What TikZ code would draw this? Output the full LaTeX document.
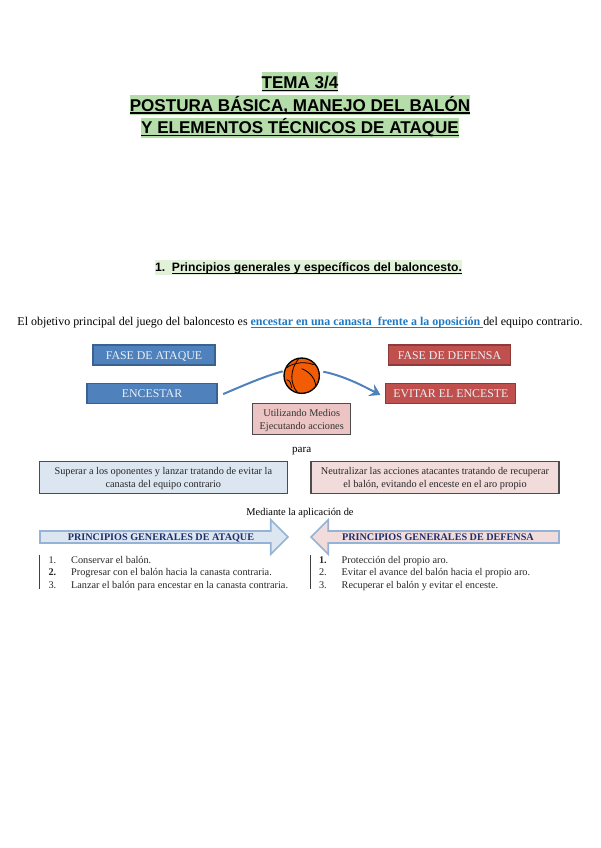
\documentclass[tikz,border=0pt]{standalone}
\usepackage{fontspec}
\usepackage{xcolor}
\usepackage{tikz}
\usetikzlibrary{arrows.meta,positioning,shapes.arrows}
\setmainfont{Liberation Serif}
\newfontfamily\arialfont{Liberation Sans}
\newsavebox{\ulsave}
\newcommand{\ultext}[2][1pt]{\sbox{\ulsave}{#2}\rlap{\rule[-1.7pt]{\wd\ulsave}{#1}}\usebox{\ulsave}}
\definecolor{titlegreen}{HTML}{B5DDAA}
\definecolor{secgreen}{HTML}{E2F1DA}
\definecolor{linkblue}{HTML}{1F7AC4}
\definecolor{atkblue}{HTML}{4F81BD}
\definecolor{atkedge}{HTML}{3A6291}
\definecolor{defred}{HTML}{C0504D}
\definecolor{defedge}{HTML}{8E3A38}
\definecolor{palered}{HTML}{F2DCDB}
\definecolor{paleblue}{HTML}{DCE6F1}
\definecolor{pinkbox}{HTML}{EBC4C3}
\definecolor{arrowedge}{HTML}{95B3D7}
\definecolor{ballfill}{HTML}{F25C05}
\definecolor{navytext}{HTML}{1F2F6B}

\begin{document}
\begin{tikzpicture}[
    x=.75pt, y=-.75pt,
    node distance=14pt and 0pt,
    titleline/.style={fill=titlegreen, inner sep=0pt, outer sep=0pt, text height=12.2pt, text depth=2.8pt,
                font=\arialfont\bfseries\fontsize{12.8}{14}\selectfont},
    plain/.style={inner sep=0pt, font=\fontsize{8.3}{10}\selectfont},
    box/.style={draw, line width=.9pt, inner sep=0pt, outer sep=0pt, align=center, text=white!88!atkblue,
                font=\fontsize{8.9}{10}\selectfont, minimum height=15pt, text height=6pt, text depth=0pt},
    atk/.style={box, fill=atkblue, draw=atkedge},
    def/.style={box, fill=defred, draw=defedge},
    aim/.style={draw=black!70, line width=.8pt, inner sep=0pt, outer sep=0pt, align=center, text=black!85,
                font=\fontsize{7.7}{9.8}\selectfont, minimum width=186pt, minimum height=24pt,
                text depth=0pt},
    goal/.style={single arrow, draw=arrowedge, line width=1.3pt, inner sep=0pt, outer sep=0pt,
                minimum height=186pt, minimum width=26pt, single arrow head extend=6.2pt,
                single arrow head indent=0pt, text=navytext, text height=5.2pt, text depth=0pt,
                font=\bfseries\fontsize{7.62}{9}\selectfont},
    rules/.style={align=left, inner ysep=1.2pt, inner xsep=6.75pt, outer sep=0pt, text=black!85,
                font=\fontsize{7.7}{9.4}\selectfont},
    rulebar/.style={draw=black!75, line width=.7pt, shorten >=2.5pt},
    flow/.style={-{Stealth[length=8pt,width=10pt,inset=3pt]}, draw=atkblue, line width=1.5pt}
  ]
  \useasboundingbox (0,0) rectangle (600,848);

  \node[titleline] (tema) at (300,82.5) {\ultext{TEMA 3/4}};
  \node[titleline, below=1.9pt of tema] (postura) {\ultext{POSTURA BÁSICA, MANEJO DEL BALÓN}};
  \node[titleline, below=1.9pt of postura] (elementos) {\ultext{Y ELEMENTOS TÉCNICOS DE ATAQUE}};
  \node[fill=secgreen, inner sep=0pt, text height=8.6pt, text depth=2.6pt, font=\arialfont\bfseries\fontsize{9.1}{11}\selectfont]
    (seccion) at (308.5,267.5) {1.\hspace{5pt}\ultext[.7pt]{Principios generales y específicos del baloncesto.}};
  \node[plain, font=\fontsize{8.97}{11}\selectfont] (objetivo) at (300,323)
    {El objetivo principal del juego del baloncesto es \textcolor{linkblue}{\bfseries\ultext[.6pt]{encestar en una canasta\ \ frente a la oposición\ }}del equipo contrario.};

  \node[atk, minimum width=91.5pt] (faseat) at (154,355) {FASE DE ATAQUE};
  \node[atk, minimum width=97.5pt, below=14pt of faseat, xshift=-1.5pt] (encestar) {ENCESTAR};
  \node[def, minimum width=92pt] (fasedef) at (449.5,355) {FASE DE DEFENSA};
  \node[def, minimum width=97.5pt, below=14pt of fasedef, xshift=1pt] (evitar) {EVITAR EL ENCESTE};

  \node[circle, draw=black, line width=1pt, fill=ballfill, inner sep=0pt, minimum size=26.5pt] (balon) at (301.7,375.7) {};
  \begin{scope}[shift={(balon.center)}, line width=.6pt]
    \draw (-15,-8) .. controls (-7,-14) and (5,-14) .. (12,-11);
    \draw (-3,-17) .. controls (-12,-6) and (-12,8) .. (-4,17);
    \draw (-15,4) .. controls (-11,5) and (-11,8) .. (-10,12);
    \draw (0,-7) .. controls (8,-4) and (14,3) .. (14,11);
  \end{scope}

  \draw[flow, -, shorten <=5pt, shorten >=1pt] ([yshift=-2.25pt]encestar.east) .. controls (240,387) and (262,377) .. (balon.165);
  \draw[flow, shorten <=3pt, shorten >=4.5pt] (balon.15) .. controls (345,376) and (365,387) .. ([yshift=-3pt]evitar.west);

  \node[aim, fill=pinkbox, minimum width=73.5pt, text=black!80, minimum height=23.5pt] (medios) at (301.7,419) {Utilizando Medios\\Ejecutando acciones};
  \node[plain, below=9pt of medios] (para) {para};
  \node[aim, fill=paleblue] (superar) at (163.3,477.3) {Superar a los oponentes y lanzar tratando de evitar la\\canasta del equipo contrario};
  \node[aim, fill=palered] (neutralizar) at (435,477.3) {Neutralizar las acciones atacantes tratando de recuperar\\el balón, evitando el enceste en el aro propio};
  \node[plain, font=\fontsize{7.8}{10}\selectfont] (mediante) at (300,513) {Mediante la aplicación de};

  \node[goal, fill=paleblue, anchor=tip] (genat) at (288,537) {PRINCIPIOS GENERALES DE ATAQUE};
  \node[goal, fill=palered, anchor=tip, shape border rotate=180] (gendef) at (311,537) {PRINCIPIOS GENERALES DE DEFENSA};

  \node[rules, anchor=north west] (listaat) at (39.5,554.5)
    {\makebox[17pt][l]{1.}Conservar el balón.\\
     \makebox[17pt][l]{\bfseries 2.}Progresar con el balón hacia la canasta contraria.\\
     \makebox[17pt][l]{3.}Lanzar el balón para encestar en la canasta contraria.};
  \node[rules, anchor=north west] (listadef) at (310,554.5)
    {\makebox[17pt][l]{\bfseries 1.}Protección del propio aro.\\
     \makebox[17pt][l]{2.}Evitar el avance del balón hacia el propio aro.\\
     \makebox[17pt][l]{3.}Recuperar el balón y evitar el enceste.};
  \draw[rulebar] (listaat.north west) -- (listaat.south west);
  \draw[rulebar] (listadef.north west) -- (listadef.south west);
\end{tikzpicture}
\end{document}
